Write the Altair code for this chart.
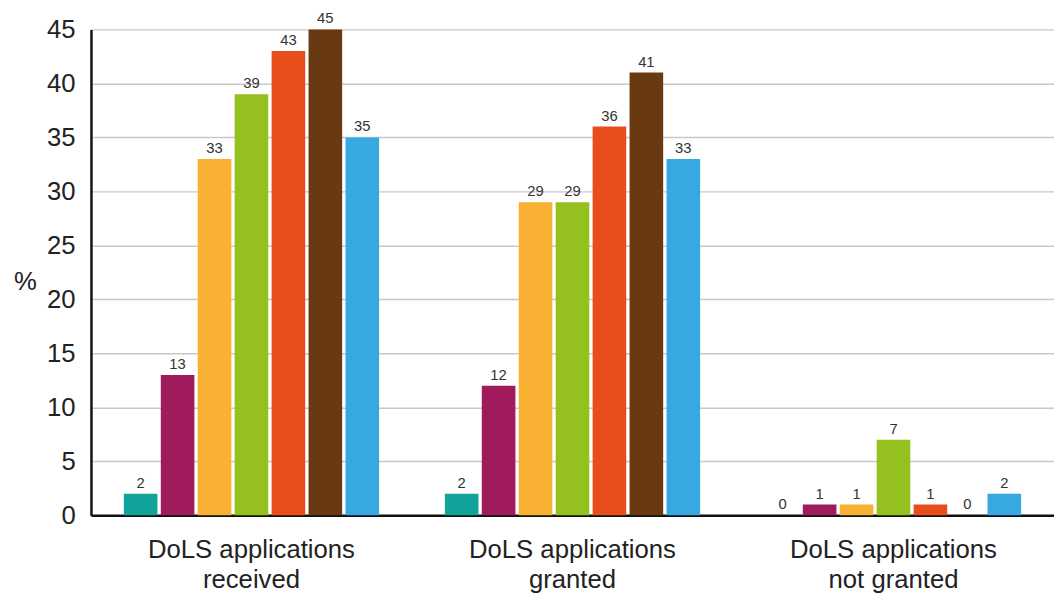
import altair as alt
import pandas as pd

groups = ["DoLS applications|received", "DoLS applications|granted", "DoLS applications|not granted"]
series = ["S1", "S2", "S3", "S4", "S5", "S6", "S7"]
colors = ["#10a39b", "#a01b5c", "#f8b133", "#94c11f", "#e84e1c", "#693a12", "#37a9e0"]
received = [2, 13, 33, 39, 43, 45, 35]
granted = [2, 12, 29, 29, 36, 41, 33]
not_granted = [0, 1, 1, 7, 1, 0, 2]

rows = []
for g, vals in zip(groups, [received, granted, not_granted]):
    for s, v in zip(series, vals):
        rows.append({"group": g, "series": s, "value": v})
df = pd.DataFrame(rows)

FONT = "Liberation Sans"

x = alt.X("group:N", sort=groups, title=None,
          scale=alt.Scale(paddingInner=0, paddingOuter=0),
          axis=alt.Axis(labelExpr="split(datum.label, '|')", labelAngle=0,
                        labelFontSize=26, labelColor="#222", labelFont=FONT,
                        labelPadding=22, labelLineHeight=30, labelLimit=0,
                        ticks=False, domainColor="#111", domainWidth=2.5,
                        grid=False))
xo = alt.XOffset("series:N", sort=series,
                 scale=alt.Scale(paddingInner=0.09, paddingOuter=0.89))
y = alt.Y("value:Q", title="%",
          scale=alt.Scale(domain=[0, 45], nice=False),
          axis=alt.Axis(values=list(range(0, 50, 5)), labelFontSize=26,
                        labelColor="#222", labelFont=FONT, labelPadding=16,
                        ticks=False, domainColor="#111", domainWidth=2.5,
                        gridColor="#c8c8c8", gridWidth=1.5,
                        titleAngle=0, titleFontSize=26, titleFont=FONT,
                        titleFontWeight="normal", titleColor="#222",
                        titlePadding=22, titleY=268))

base = alt.Chart(df).encode(x=x, xOffset=xo, y=y)

bars = base.mark_bar().encode(
    color=alt.Color("series:N", sort=series,
                    scale=alt.Scale(domain=series, range=colors), legend=None)
)
labels = base.mark_text(dy=-11, fontSize=15, color="#333", font=FONT).encode(
    text=alt.Text("value:Q")
)

chart = (bars + labels).properties(
    width=975, height=492,
    padding={"left": 5, "top": 0, "right": 0, "bottom": 0}
).configure_view(stroke=None)

chart.save("out.html", embed_options={"renderer": "svg", "actions": False})
